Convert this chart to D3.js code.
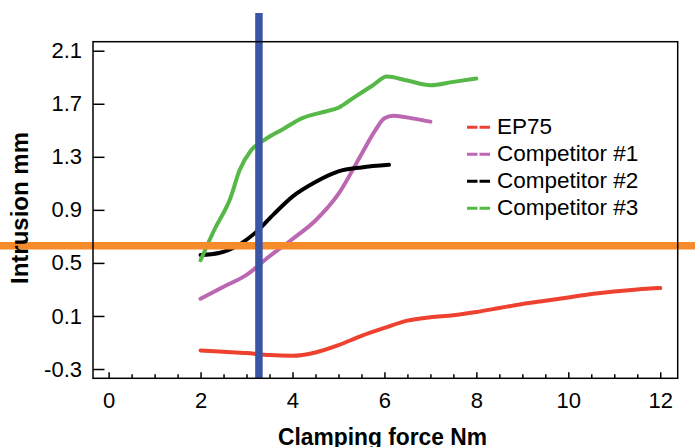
<!DOCTYPE html>
<html>
<head>
<meta charset="utf-8">
<script src="https://cdn.jsdelivr.net/npm/d3@7"></script>
<style>
  body { margin: 0; background: #fff; }
  svg { display: block; font-family: "Liberation Sans", Arial, Helvetica, sans-serif; }
</style>
</head>
<body>
<svg id="chart" width="695" height="447"></svg>
<script>
// series data (x = clamping force Nm, y = intrusion mm)
const ep75X = [2, 2.5, 3, 3.5, 4, 4.5, 5, 5.5, 6, 6.5, 7, 7.5, 8, 8.5, 9, 9.5, 10, 10.5, 11, 11.5, 12];
const ep75Y = [-0.16, -0.17, -0.18, -0.195, -0.2, -0.175, -0.12, -0.05, 0.01, 0.065, 0.09, 0.105, 0.13, 0.16, 0.19, 0.215, 0.24, 0.265, 0.285, 0.3, 0.31];

const comp1X = [2, 2.5, 3, 3.5, 4, 4.5, 5, 5.5, 5.8, 6, 6.2, 6.6, 7];
const comp1Y = [0.23, 0.32, 0.41, 0.55, 0.68, 0.82, 1.02, 1.32, 1.5, 1.59, 1.61, 1.59, 1.565];

const comp2X = [2, 2.4, 2.8, 3.2, 3.6, 4, 4.5, 5, 5.5, 6.1];
const comp2Y = [0.56, 0.575, 0.63, 0.73, 0.87, 1.0, 1.11, 1.19, 1.22, 1.24];

const comp3X = [2, 2.3, 2.65, 2.85, 3.1, 3.4, 3.8, 4.2, 4.7, 5, 5.35, 5.75, 6.05, 6.5, 7, 7.5, 8];
const comp3Y = [0.52, 0.75, 0.99, 1.2, 1.35, 1.43, 1.51, 1.59, 1.64, 1.67, 1.75, 1.84, 1.905, 1.875, 1.84, 1.865, 1.89];

const seriesNames = ["EP75", "Competitor #1", "Competitor #2", "Competitor #3"];
const seriesColors = ["#ee4130", "#bb67b1", "#000000", "#56b847"];

const xTicks = [0, 2, 4, 6, 8, 10, 12];
const xMinorTicks = [0.5, 1, 1.5, 2.5, 3, 3.5, 4.5, 5, 5.5, 6.5, 7, 7.5, 8.5, 9, 9.5, 10.5, 11, 11.5];
const yTicks = [-0.3, 0.1, 0.5, 0.9, 1.3, 1.7, 2.1];

const refForce = 3.27;      // blue vertical line
const refIntrusion = 0.63;  // orange horizontal line

const W = 695, H = 447;
const margin = {top: 41.7, right: 17.3, bottom: 68.7, left: 93};
const iw = W - margin.left - margin.right;
const ih = H - margin.top - margin.bottom;

const svg = d3.select("#chart");
const g = svg.append("g").attr("transform", `translate(${margin.left},${margin.top})`);

const x = d3.scaleLinear().domain([-0.34, 12.38]).range([0, iw]);
const y = d3.scaleLinear().domain([-0.37, 2.168]).range([ih, 0]);

const series = [
  {xs: ep75X, ys: ep75Y},
  {xs: comp1X, ys: comp1Y},
  {xs: comp2X, ys: comp2Y},
  {xs: comp3X, ys: comp3Y}
];

const line = d3.line()
  .x(d => x(d[0]))
  .y(d => y(d[1]))
  .curve(d3.curveMonotoneX);

series.forEach((s, i) => {
  const pts = s.xs.map((v, j) => [v, s.ys[j]]);
  g.append("path")
    .attr("d", line(pts))
    .attr("fill", "none")
    .attr("stroke", seriesColors[i])
    .attr("stroke-width", 4)
    .attr("stroke-linecap", "round")
    .attr("stroke-linejoin", "round");
});

// reference lines
g.append("line")
  .attr("x1", -margin.left).attr("x2", iw + margin.right)
  .attr("y1", y(refIntrusion)).attr("y2", y(refIntrusion))
  .attr("stroke", "#f68b2c").attr("stroke-width", 7.5);

g.append("line")
  .attr("x1", x(refForce)).attr("x2", x(refForce))
  .attr("y1", 13 - margin.top).attr("y2", ih)
  .attr("stroke", "#3b55a5").attr("stroke-width", 7.5);

// axes
const xAxis = g.append("g")
  .attr("transform", `translate(0,${ih})`)
  .call(d3.axisBottom(x).tickValues(xTicks).tickSizeInner(-6).tickSizeOuter(0).tickPadding(14).tickFormat(d3.format("d")));

const xMinor = g.append("g")
  .attr("transform", `translate(0,${ih})`)
  .call(d3.axisBottom(x).tickValues(xMinorTicks).tickSizeInner(-4).tickSizeOuter(0).tickFormat(""));

const yAxis = g.append("g")
  .call(d3.axisLeft(y).tickValues(yTicks).tickSizeInner(-11.5).tickSizeOuter(0).tickPadding(11)
    .tickFormat(d => d.toFixed(1)));

[xAxis, xMinor, yAxis].forEach(a => {
  a.select(".domain").remove();
  a.selectAll(".tick line").attr("stroke", "#000").attr("stroke-width", 1.5);
});

xAxis.selectAll(".tick text")
  .attr("font-size", 22)
  .attr("fill", "#000");

yAxis.selectAll(".tick text")
  .attr("font-size", 22)
  .attr("fill", "#000");

// frame
g.append("rect")
  .attr("width", iw).attr("height", ih)
  .attr("fill", "none").attr("stroke", "#000").attr("stroke-width", 1.5);

// axis titles
svg.append("text")
  .attr("x", 382.5).attr("y", 445)
  .attr("text-anchor", "middle")
  .attr("font-size", 23).attr("font-weight", "bold")
  .attr("textLength", 209).attr("lengthAdjust", "spacingAndGlyphs")
  .text("Clamping force Nm");

svg.append("text")
  .attr("transform", "translate(28,208) rotate(-90)")
  .attr("text-anchor", "middle")
  .attr("font-size", 24).attr("font-weight", "bold")
  .text("Intrusion mm");

// legend
const legend = svg.append("g").attr("transform", "translate(467,127.3)");
seriesNames.forEach((name, i) => {
  const row = legend.append("g").attr("transform", `translate(0,${i * 27})`);
  row.append("line")
    .attr("x1", 0).attr("x2", 23).attr("y1", 0).attr("y2", 0)
    .attr("stroke", seriesColors[i]).attr("stroke-width", 3)
    .attr("stroke-dasharray", "10.5,2");
  row.append("text")
    .attr("x", 30).attr("y", 6.5)
    .attr("font-size", 22.5)
    .attr("fill", "#000")
    .text(name);
});
</script>
</body>
</html>
